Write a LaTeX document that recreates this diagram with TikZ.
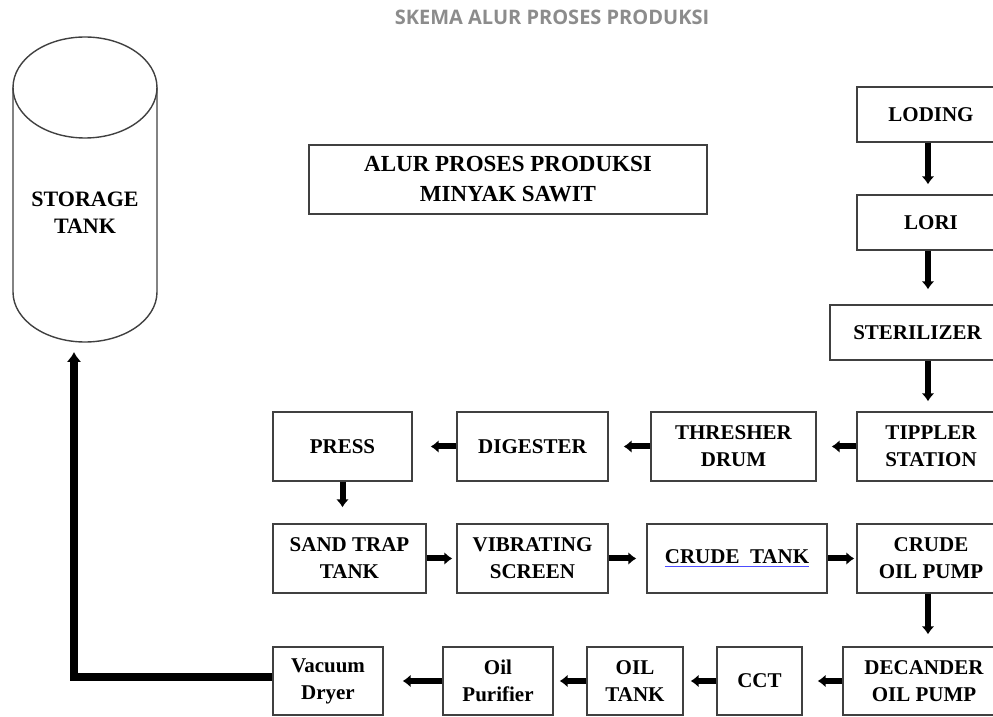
\documentclass[tikz,border=0pt]{standalone}
\usepackage{fontspec}
\setmainfont{Liberation Serif}
\newfontfamily\judulfont{Open Sans}
\usetikzlibrary{arrows.meta}
\newcommand{\tbl}      {\fontsize{10.5}{13.5}\selectfont\bfseries}
\newcommand{\garisbiru}[1]{\textcolor{blue!70}{\underline{\textcolor{black}{#1}}}}

\begin{document}
\begin{tikzpicture}[x=0.5pt,y=-0.5pt,
    kotak/.style={draw=black!75,line width=0.7pt,align=center,inner sep=0pt,
                  minimum height=34.5pt,font=\tbl},
    panah/.style={line width=3pt,-{Latex[length=4pt,width=6.5pt]}}]
    \useasboundingbox (0,0) rectangle (993,717);
    \clip (0,0) rectangle (993,717);
    \node[font=\judulfont\fontsize{10}{12}\selectfont\bfseries,text=black!45] (skema) at (552,17) {SKEMA ALUR PROSES PRODUKSI};
    % tangki
    \draw[black!75,line width=0.7pt] (85,87.5) ellipse [x radius=36pt,y radius=25.25pt];
    \draw[black!75,line width=0.7pt] (13,87.5) -- (13,292) arc[start angle=180,end angle=360,x radius=36pt,y radius=25pt] -- (157,87.5);
    \node[font=\fontsize{11}{13.5}\selectfont\bfseries,align=center] (tangki) at (85,213) {STORAGE\\TANK};
    \coordinate (masuk) at (74,352);
    \node[kotak,minimum width=199pt,font=\fontsize{11.5}{15}\selectfont\bfseries] (judul) at (508,179.5) {ALUR PROSES PRODUKSI\\MINYAK SAWIT};
    % kolom kanan
    \node[kotak,minimum width=74pt,minimum height=27.5pt]   (loding)     at (931,114.5) {LODING};
    \node[kotak,minimum width=74pt,minimum height=27.5pt]   (lori)       at (931,222.5) {LORI};
    \node[kotak,minimum width=87.5pt,minimum height=27.5pt] (sterilizer) at (917.5,332.5) {STERILIZER};
    % baris 2
    \node[kotak,minimum width=74pt]   (tippler)  at (931,446.5)   {TIPPLER\\STATION};
    \node[kotak,minimum width=82.5pt] (thresher) at (733.5,446.5) {THRESHER\\DRUM};
    \node[kotak,minimum width=75.5pt] (digester) at (532.5,446.5) {DIGESTER};
    \node[kotak,minimum width=69.5pt] (press)    at (342.5,446.5) {PRESS};
    % baris 3
    \node[kotak,minimum width=76.5pt] (sandtrap)  at (349.5,558.5) {SAND TRAP\\TANK};
    \node[kotak,minimum width=75.5pt] (vibrating) at (532.5,558.5) {VIBRATING\\SCREEN};
    \node[kotak,minimum width=90pt]   (crudetank) at (737,558.5)   {\garisbiru{CRUDE~~TANK}};
    \node[kotak,minimum width=74pt]   (crudepump) at (931,558.5)   {CRUDE\\OIL PUMP};
    % baris 4
    \node[kotak,minimum width=81pt,minimum height=34pt]   (decander) at (924,681)   {DECANDER\\OIL PUMP};
    \node[kotak,minimum width=42.5pt,minimum height=34pt] (cct)      at (759.5,681) {CCT};
    \node[kotak,minimum width=48pt,minimum height=34pt]   (oiltank)  at (635,681)   {OIL\\TANK};
    \node[kotak,minimum width=55pt,minimum height=34pt]   (purifier) at (498,681)   {Oil\\Purifier};
    \node[kotak,minimum width=55pt,minimum height=34pt]   (vacuum)   at (328,681)   {Vacuum\\Dryer};
    % panah
    \coordinate (kanan) at (928,0);
    \draw[panah,shorten >=5pt]   (kanan |- loding.south) -- (kanan |- lori.north);
    \draw[panah,shorten >=7.5pt] (kanan |- lori.south) -- (kanan |- sterilizer.north);
    \draw[panah,shorten >=5pt]   (kanan |- sterilizer.south) -- (kanan |- tippler.north);
    \draw[panah,shorten >=7.5pt] (tippler) -- (thresher);
    \draw[panah,shorten >=7.5pt] (thresher) -- (digester);
    \draw[panah,shorten >=9pt]   (digester) -- (press);
    \draw[panah,shorten >=8pt]   (press) -- (press.south |- sandtrap.north);
    \draw[panah,shorten >=2pt]   (sandtrap) -- (vibrating);
    \draw[panah,shorten >=5pt]   (vibrating) -- (crudetank);
    \draw[panah,shorten >=1pt]   (crudetank) -- (crudepump);
    \draw[panah,shorten >=6pt]   (kanan |- crudepump.south) -- (kanan |- decander.north);
    \draw[panah,shorten >=7.5pt] (decander) -- (cct);
    \draw[panah,shorten >=3.5pt] (cct) -- (oiltank);
    \draw[panah,shorten >=3pt]   (oiltank) -- (purifier);
    \draw[panah,shorten >=9.5pt] (purifier) -- (vacuum);
    \draw[line width=4pt,-{Latex[length=5pt,width=7.5pt]}] ([yshift=2pt]vacuum.west) -| (masuk);
\end{tikzpicture}
\end{document}
